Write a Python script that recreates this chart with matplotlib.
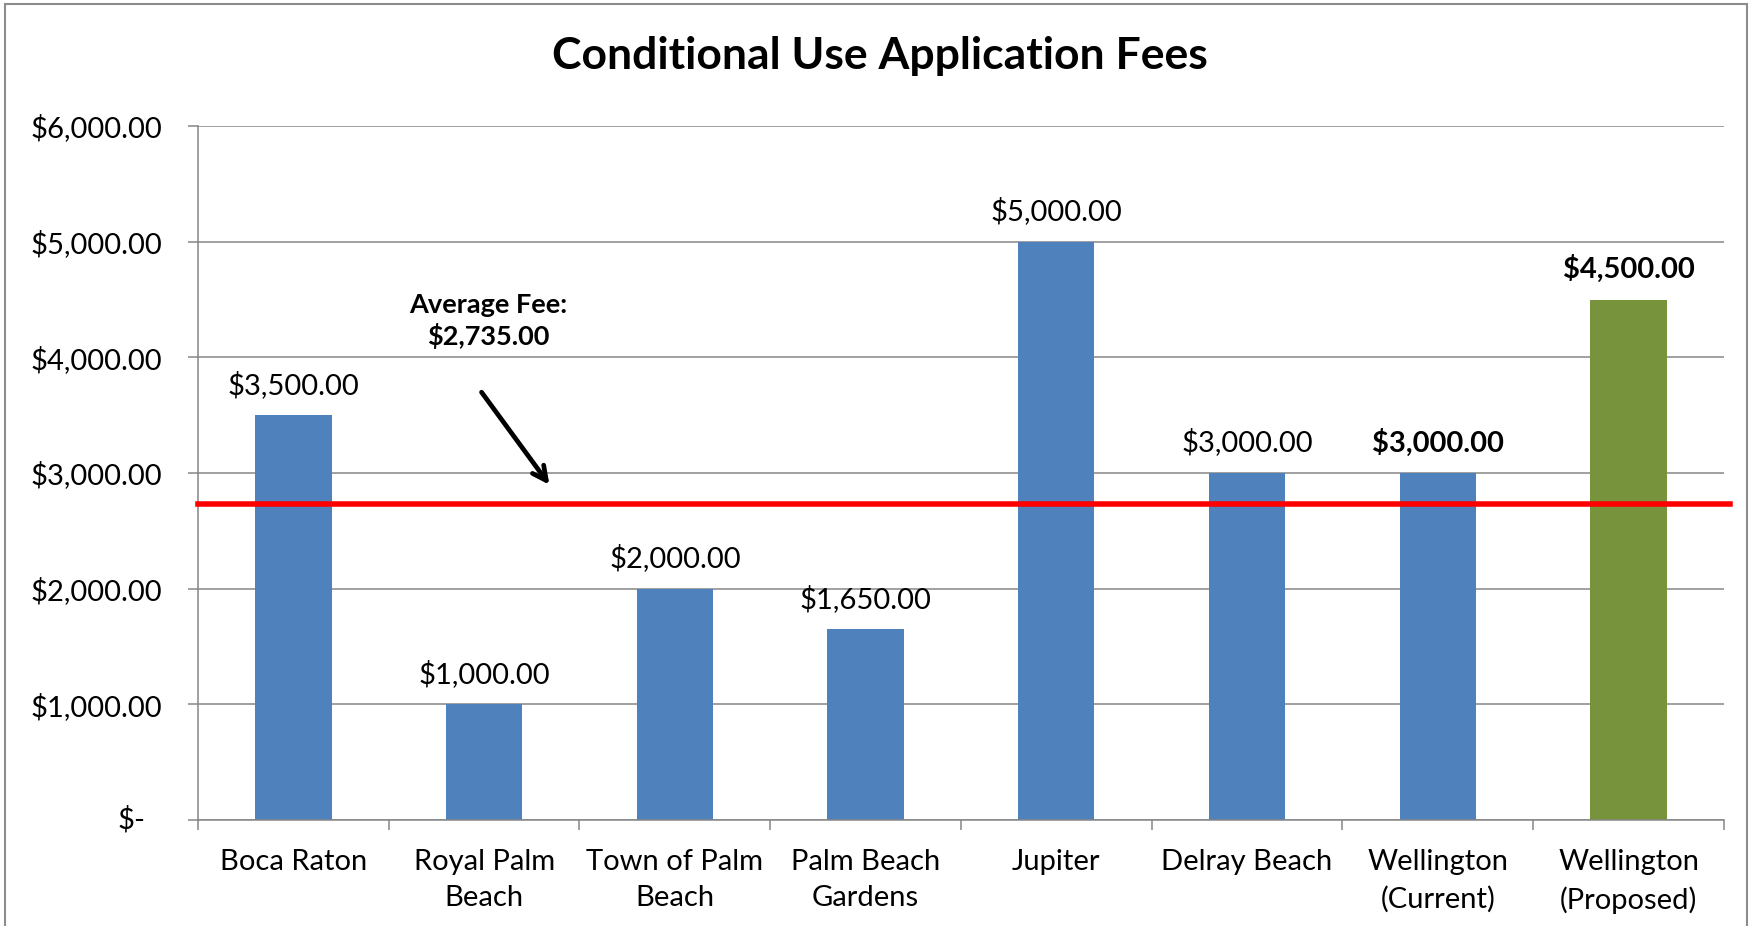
import matplotlib
matplotlib.use("Agg")
import matplotlib.pyplot as plt
from matplotlib.ticker import FuncFormatter, FixedLocator
from matplotlib.patches import Rectangle

categories = ["Boca Raton", "Royal Palm\nBeach", "Town of Palm\nBeach", "Palm Beach\nGardens",
              "Jupiter", "Delray Beach", "Wellington\n(Current)", "Wellington\n(Proposed)"]
fees = [3500, 1000, 2000, 1650, 5000, 3000, 3000, 4500]
bar_colors = ["#4F81BD"] * 7 + ["#77933C"]
bold_labels = [False, False, False, False, False, False, True, True]
average_fee = 2735
y_ticks = [0, 1000, 2000, 3000, 4000, 5000, 6000]

plt.rcParams['font.family'] = ['Lato', 'DejaVu Sans']

fig = plt.figure(figsize=(17.52, 9.26), dpi=100)
ax = fig.add_axes([0.1130, 0.1145, 0.8710, 0.7494])

grid_c = "#868686"
x = list(range(len(categories)))
ax.bar(x, fees, width=0.4, color=bar_colors, zorder=2)

ax.set_xlim(-0.5, len(categories) - 0.5)
ax.set_ylim(0, 6000)
ax.yaxis.set_major_locator(FixedLocator(y_ticks))
ax.yaxis.set_major_formatter(FuncFormatter(lambda v, p: "" if v == 0 else f"${v:,.2f}"))
ax.annotate("$-", xy=(0, 0), xycoords=("axes fraction", "data"), xytext=(-38, 0),
            textcoords="offset points", ha="right", va="center", fontsize=21)
ax.grid(axis="y", color=grid_c, linewidth=1.1, zorder=0)
ax.set_axisbelow(True)

ax.set_xticks(x)
ax.set_xticklabels(categories, fontsize=21, linespacing=1.48)
ax.set_xticks([i - 0.5 for i in range(len(categories) + 1)], minor=True)
ax.tick_params(axis="x", which="major", length=0, pad=21)
ax.tick_params(axis="x", which="minor", length=7, width=1.1, color=grid_c, direction="out")
ax.tick_params(axis="y", length=7, width=1.1, color=grid_c, direction="out", pad=19, labelsize=21)

for s in ["top", "right"]:
    ax.spines[s].set_visible(False)
for s in ["left", "bottom"]:
    ax.spines[s].set_color(grid_c)
    ax.spines[s].set_linewidth(1.1)

for xi, v, b in zip(x, fees, bold_labels):
    ax.annotate(f"${v:,.2f}", xy=(xi, v), xytext=(0, 22), textcoords="offset points",
                ha="center", va="center", fontsize=21,
                fontweight="bold" if b else "normal")

ax.axhline(average_fee, xmin=0, xmax=1.004, color="#FF0000", linewidth=4.0, clip_on=False, zorder=3)

ax.annotate("", xy=(1.351, 2879), xytext=(0.978, 3718),
            arrowprops=dict(arrowstyle="->,head_length=1.0,head_width=0.5", color="black", lw=3.4))
ax.text(1.02, 4314, f"Average Fee:\n${average_fee:,.2f}", ha="center", va="center",
        fontsize=19.5, fontweight="bold", linespacing=1.3)

fig.text(0.502, 0.9395, "Conditional Use Application Fees", ha="center", va="center",
         fontsize=32, fontweight="bold")

fig.patches.append(Rectangle((5 / 1752, -0.01), (1747 - 5) / 1752, 1 - 4 / 926 + 0.01,
                             transform=fig.transFigure, fill=False, edgecolor="#8c8c8c",
                             linewidth=1.5))

fig.savefig("out.png", dpi=100)
